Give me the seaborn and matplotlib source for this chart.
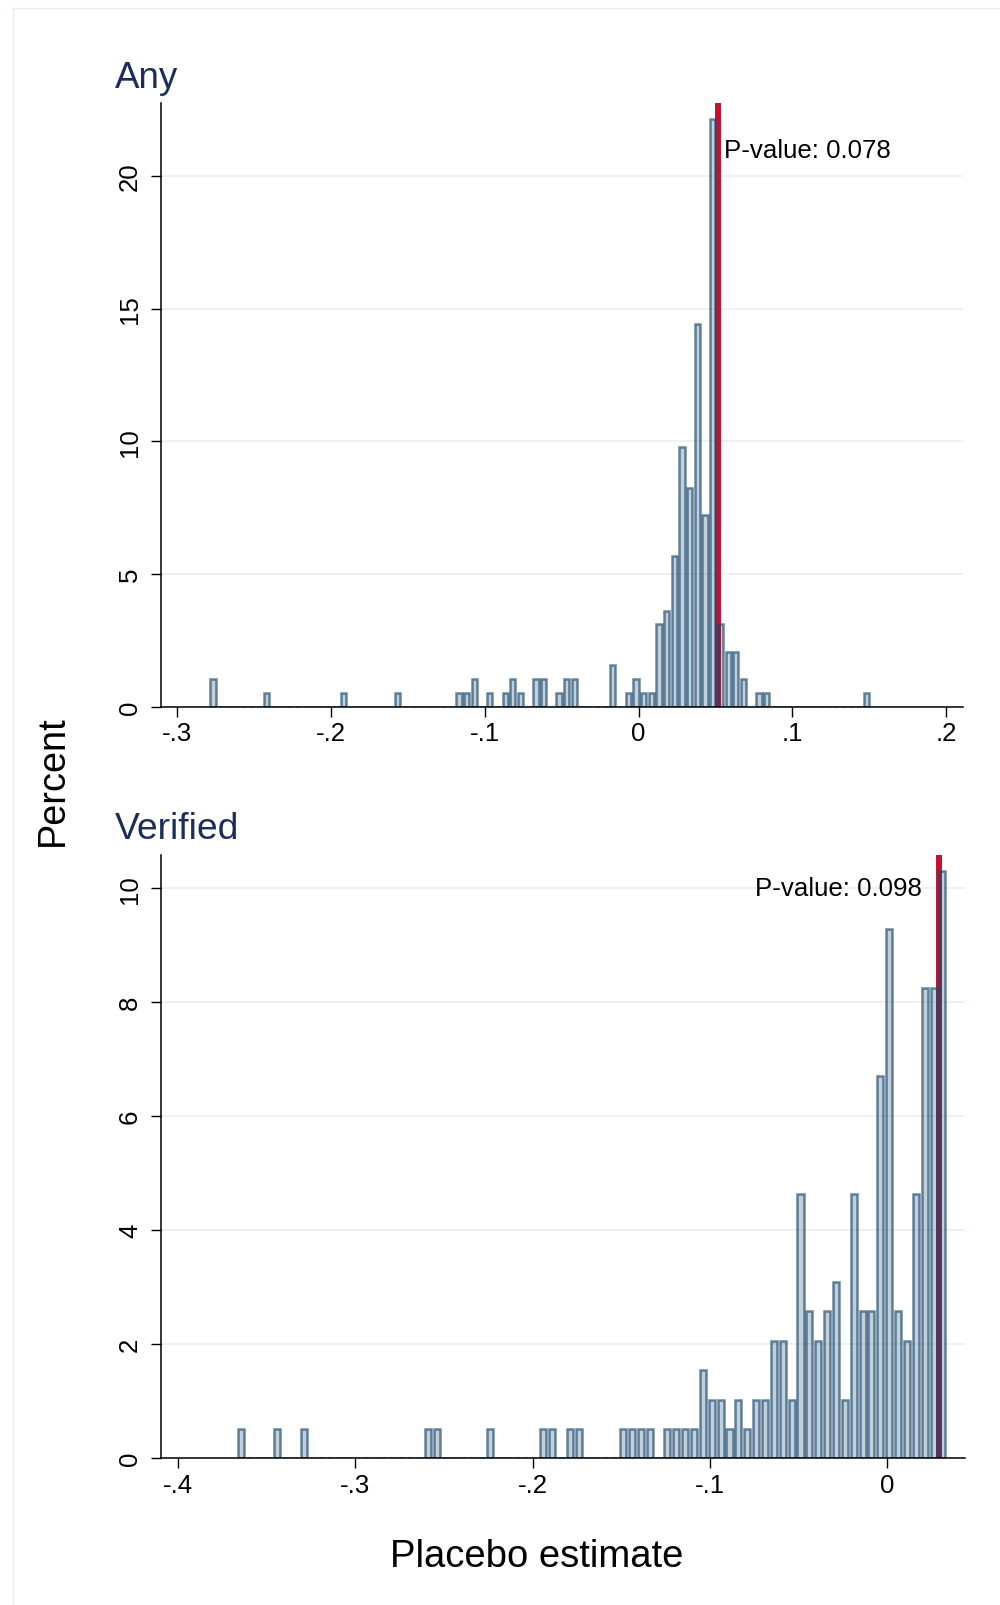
import numpy as np
import pandas as pd
import seaborn as sns
import matplotlib.pyplot as plt
from matplotlib.lines import Line2D

# ---------------- data ----------------
any_values = [-0.2767, -0.2417, -0.1917, -0.1567, -0.1167, -0.1117, -0.1067, -0.0967,
              -0.0867, -0.0817, -0.0767, -0.0667, -0.0617, -0.0517, -0.0467, -0.0417,
              -0.0167, -0.0067, -0.0017, 0.0033, 0.0083, 0.0133, 0.0183, 0.0233,
              0.0283, 0.0333, 0.0383, 0.0433, 0.0483, 0.0533, 0.0583, 0.0633,
              0.0683, 0.0783, 0.0833, 0.1483]
any_counts = [2, 1, 1, 1, 1, 1, 2, 1,
              1, 2, 1, 2, 2, 1, 2, 2,
              3, 1, 2, 1, 1, 6, 7, 11,
              19, 16, 28, 14, 43, 6, 4, 4,
              2, 1, 1, 1]

verified_values = [-0.364, -0.344, -0.329, -0.259, -0.254, -0.224, -0.194, -0.189,
                   -0.179, -0.174, -0.149, -0.144, -0.139, -0.134, -0.124, -0.119,
                   -0.114, -0.109, -0.104, -0.099, -0.094, -0.089, -0.084, -0.079,
                   -0.074, -0.069, -0.064, -0.059, -0.054, -0.049, -0.044, -0.039,
                   -0.034, -0.029, -0.024, -0.019, -0.014, -0.009, -0.004, 0.001,
                   0.006, 0.011, 0.016, 0.021, 0.026, 0.031]
verified_counts = [1, 1, 1, 1, 1, 1, 1, 1,
                   1, 1, 1, 1, 1, 1, 1, 1,
                   1, 1, 3, 2, 2, 1, 2, 1,
                   2, 2, 4, 4, 2, 9, 5, 4,
                   5, 6, 2, 9, 5, 5, 13, 18,
                   5, 4, 9, 16, 16, 20]

bin_width = 0.005
any_bin_range = (-0.2792, 0.1508)
verified_bin_range = (-0.3665, 0.0335)

any_actual = 0.0515
verified_actual = 0.0289
any_pvalue = "P-value: 0.078"
verified_pvalue = "P-value: 0.098"

any_xticks = [-0.3, -0.2, -0.1, 0.0, 0.1, 0.2]
any_xticklabels = ["-.3", "-.2", "-.1", "0", ".1", ".2"]
any_yticks = [0, 5, 10, 15, 20]
verified_xticks = [-0.4, -0.3, -0.2, -0.1, 0.0]
verified_xticklabels = ["-.4", "-.3", "-.2", "-.1", "0"]
verified_yticks = [0, 2, 4, 6, 8, 10]

panel_titles = ["Any", "Verified"]
y_title = "Percent"
x_title = "Placebo estimate"

# ---------------- style ----------------
sns.set_theme(style="white")
plt.rcParams['font.family'] = ['Liberation Sans', 'DejaVu Sans']

W, H = 1000, 1606
fig = plt.figure(figsize=(W / 100, H / 100), dpi=100)

def ax_rect(l, r, t, b):
    return [l / W, 1 - b / H, (r - l) / W, (b - t) / H]

navy = (26 / 255, 71 / 255, 111 / 255)
face = navy + (0.26,)
edge = navy + (0.66,)
red = "#c8102e"
grid_col = "#e9f1f2"
title_col = "#1c2d5c"

ax1 = fig.add_axes(ax_rect(160.7, 963, 104, 707.5))
ax2 = fig.add_axes(ax_rect(160.7, 965, 855.5, 1459.3))

panels = [
    (ax1, any_values, any_counts, any_bin_range, any_actual, any_xticks, any_xticklabels,
     any_yticks, (-0.3107, 0.211), (0, 22.76)),
    (ax2, verified_values, verified_counts, verified_bin_range, verified_actual,
     verified_xticks, verified_xticklabels, verified_yticks, (-0.4095, 0.0437), (0, 10.59)),
]

for ax, vals, cnts, brange, actual, xt, xtl, yt, xl, yl in panels:
    df = pd.DataFrame({"estimate": np.repeat(vals, cnts)})
    sns.histplot(data=df, x="estimate", stat="percent", binwidth=bin_width,
                 binrange=brange, shrink=0.68, facecolor=face, edgecolor=edge,
                 linewidth=1.8, ax=ax, zorder=2)
    ax.axvline(actual, color=red, lw=4.3, zorder=1.5)
    ax.set_xlim(*xl)
    ax.set_ylim(*yl)
    ax.set_xticks(xt)
    ax.set_xticklabels(xtl)
    ax.set_yticks(yt)
    ax.set_xlabel("")
    ax.set_ylabel("")
    ax.set_axisbelow(True)
    ax.yaxis.grid(True, color=grid_col, lw=1.3)
    ax.xaxis.grid(False)
    for s in ["top", "right"]:
        ax.spines[s].set_visible(False)
    for s in ["left", "bottom"]:
        ax.spines[s].set_color("black")
        ax.spines[s].set_linewidth(1.1)
    ax.tick_params(axis="both", which="major", bottom=True, left=True, direction="out",
                   length=7.4, width=1.0, color="black", labelsize=18.6, labelcolor="black")
    ax.tick_params(axis="x", pad=3)
    ax.tick_params(axis="y", pad=6)
    for lbl in ax.get_yticklabels():
        lbl.set_rotation(90)
        lbl.set_va("center")
        lbl.set_ha("right")

ax1.text(0.0556, 21.0, any_pvalue, ha="left", va="center", fontsize=18.6, color="black")
ax2.text(0.0194, 10.0, verified_pvalue, ha="right", va="center", fontsize=18.6, color="black")

fig.text(115 / W, 1 - 88 / H, panel_titles[0], fontsize=26.5, color=title_col,
         ha="left", va="baseline")
fig.text(115 / W, 1 - 839 / H, panel_titles[1], fontsize=26.8, color=title_col,
         ha="left", va="baseline")
fig.text(53 / W, 1 - 781 / H, y_title, fontsize=27.3, rotation=90, ha="center",
         va="center", color="black")
fig.text(537 / W, 1 - 1567 / H, x_title, fontsize=27.5, ha="center", va="baseline",
         color="black")

# outer graph-region frame
frame_col = "#e6eef0"
fig.add_artist(Line2D([12.5 / W, 1.0], [1 - 9.3 / H, 1 - 9.3 / H], color=frame_col,
                      lw=1.0, transform=fig.transFigure))
fig.add_artist(Line2D([12.5 / W, 12.5 / W], [1 - 9.3 / H, 0.0], color=frame_col,
                      lw=1.0, transform=fig.transFigure))

fig.savefig("out.png", dpi=100, facecolor="white")
